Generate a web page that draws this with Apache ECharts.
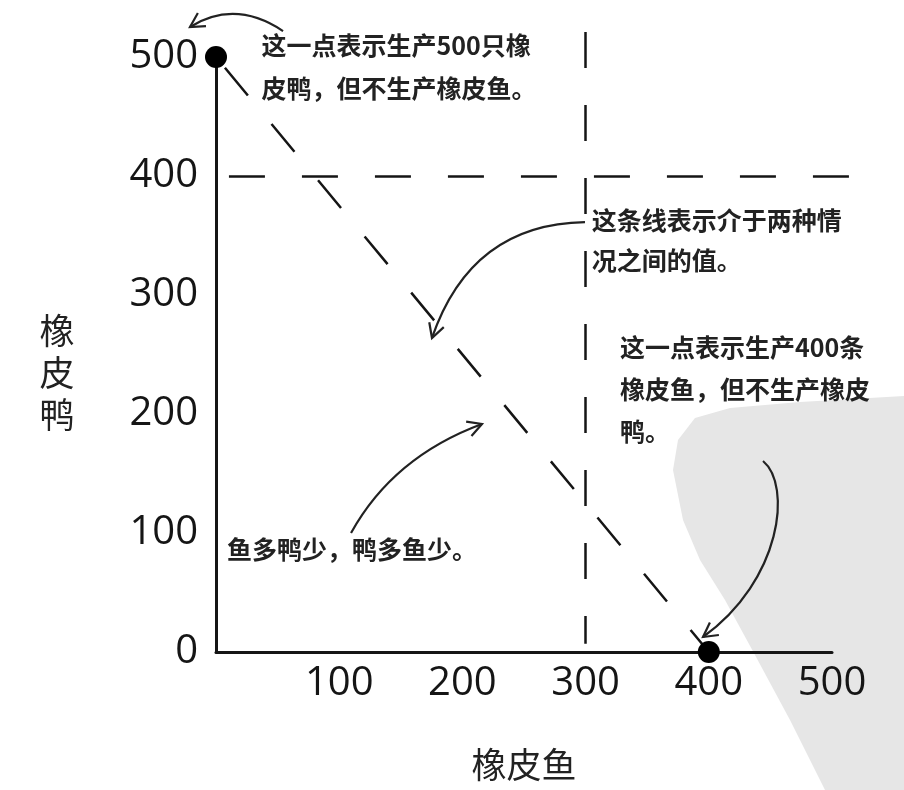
<!DOCTYPE html>
<html><head><meta charset="utf-8">
<script src="https://cdn.jsdelivr.net/npm/echarts@6/dist/echarts.min.js"></script>
<style>html,body{margin:0;padding:0;background:#fff}#c{width:904px;height:790px}</style>
</head><body><div id="c"></div>
<script>
// ---- data ----
const xName = '橡皮鱼';
const yName = '橡皮鸭';
const axisMin = 0, axisMax = 500, axisStep = 100;
const endpoints = [[0, 500], [400, 0]];          // 只生产鸭 / 只生产鱼
const frontier = [[0, 500], [400, 0]];           // 两种情况之间的值
const duckLimit = [[10.5, 400], [521, 400]];     // 水平虚线 y=400
const fishLimit = [[300, 521], [300, 7]];        // 垂直虚线 x=300

const noteTexts = [
  ['这一点表示生产500只橡', '皮鸭，但不生产橡皮鱼。'],
  ['这条线表示介于两种情', '况之间的值。'],
  ['这一点表示生产400条', '橡皮鱼，但不生产橡皮', '鸭。'],
  ['鱼多鸭少，鸭多鱼少。']
];
// anchor (data coords) = left / vertical centre of first line
const noteAnchors = [[37, 510], [305, 363], [328, 256], [9, 86]];
const noteLineHeights = [43, 40, 42, 40];

// curved arrows in data coords: start, control(s), end
const arrowPaths = [
  [[54.4, 521.8], [15.4, 548.7], [-21.1, 525.2]],
  [[299.5, 361.3], [207, 359.7], [175.3, 263.9]],
  [[109.6, 100], [143.7, 163.9], [215.9, 191.6]],
  [[444, 160.5], [467.5, 140.3], [459.4, 60.5], [395.3, 12.6]]
];

// ---- chart ----
const chart = echarts.init(document.getElementById('c'), null, {renderer: 'canvas'});
const ink = '#151515';
const dash = [36, 37];
const tickFont = {fontFamily: 'Open Sans', fontSize: 40, color: ink};

chart.setOption({
  animation: false,
  backgroundColor: '#fff',
  grid: {left: 216, right: 72, top: 57, bottom: 138, containLabel: false},
  xAxis: {
    type: 'value', min: axisMin, max: axisMax, interval: axisStep,
    name: xName, nameLocation: 'middle', nameGap: 95,
    nameTextStyle: {fontFamily: 'Noto Sans CJK SC', fontSize: 35, color: '#222'},
    axisLine: {lineStyle: {color: ink, width: 3}},
    axisTick: {show: false}, splitLine: {show: false},
    axisLabel: Object.assign({margin: 12, showMinLabel: false}, tickFont)
  },
  yAxis: {
    type: 'value', min: axisMin, max: axisMax, interval: axisStep,
    axisLine: {lineStyle: {color: ink, width: 3}},
    axisTick: {show: false}, splitLine: {show: false},
    axisLabel: Object.assign({margin: 18}, tickFont)
  },
  series: [
    {type: 'line', data: frontier, showSymbol: false, clip: false, z: 3,
      lineStyle: {color: ink, width: 2.5, type: dash, dashOffset: 59}},
    {type: 'lines', coordinateSystem: 'cartesian2d', clip: false, z: 3, silent: true,
      data: [{coords: duckLimit}, {coords: fishLimit}],
      lineStyle: {color: ink, width: 2.5, type: dash, opacity: 1, curveness: 0}},
    {type: 'scatter', data: endpoints, symbolSize: 22, clip: false, z: 5,
      itemStyle: {color: '#000', opacity: 1}}
  ]
});

// ---- annotations placed through the grid's scales ----
const toPx = p => chart.convertToPixel({gridIndex: 0}, p);
const graphics = [];

// faint scanned watermark in the lower right corner
graphics.push({type: 'polygon', z: -10, silent: true,
  shape: {points: [[673,470],[678,440],[695,418],[730,408],[800,402],[904,396],[904,790],[825,790],[790,720],[755,655],[725,600],[700,560],[683,520]]},
  style: {fill: '#e6e6e6'}});

// y axis title, stacked vertically left of the tick labels
const o = toPx([axisMin, axisMin]), t = toPx([axisMin, axisMax]);
graphics.push({type: 'text', z: 10, x: o[0] - 159, y: (o[1] + t[1]) / 2 + 18,
  style: {text: yName.split('').join('\n'), fontFamily: 'Noto Sans CJK SC', fontSize: 35,
    lineHeight: 42, fill: '#222', align: 'center', verticalAlign: 'middle'}});

noteTexts.forEach((lines, i) => {
  const p = toPx(noteAnchors[i]);
  const lh = noteLineHeights[i];
  graphics.push({type: 'text', z: 10, x: p[0], y: p[1] - lh / 2,
    style: {text: lines.join('\n'), fontFamily: 'Noto Sans CJK SC', fontSize: 25, fontWeight: 'bold',
      lineHeight: lh, fill: '#222', align: 'left', verticalAlign: 'top'}});
});

arrowPaths.forEach(path => {
  const pts = path.map(toPx);
  const s = pts[0], e = pts[pts.length - 1];
  const shape = {x1: s[0], y1: s[1], x2: e[0], y2: e[1], cpx1: pts[1][0], cpy1: pts[1][1]};
  if (pts.length === 4) { shape.cpx2 = pts[2][0]; shape.cpy2 = pts[2][1]; }
  graphics.push({type: 'bezierCurve', z: 10, shape: shape,
    style: {stroke: '#222', lineWidth: 2.2, fill: null}});
  const c = pts[pts.length - 2];
  let dx = c[0] - e[0], dy = c[1] - e[1];
  const len = Math.hypot(dx, dy); dx /= len; dy /= len;
  const head = 16, ang = 0.5;
  const r = a => [e[0] + head * (dx * Math.cos(a) - dy * Math.sin(a)), e[1] + head * (dx * Math.sin(a) + dy * Math.cos(a))];
  graphics.push({type: 'polyline', z: 10, shape: {points: [r(ang), e, r(-ang)]},
    style: {stroke: '#222', lineWidth: 2.2, fill: null}});
});

chart.setOption({graphic: graphics});
</script></body></html>
